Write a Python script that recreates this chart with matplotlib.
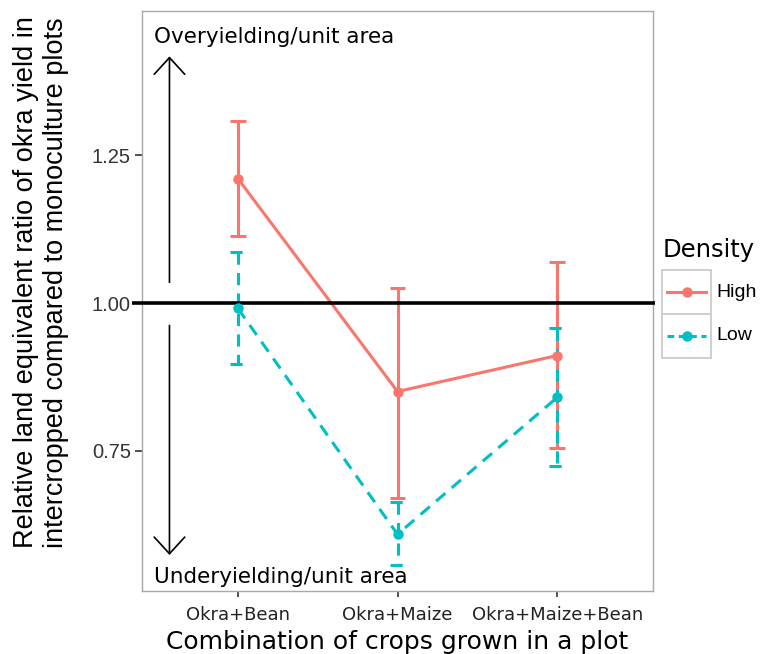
import matplotlib
matplotlib.use('Agg')
import matplotlib.pyplot as plt
from matplotlib.lines import Line2D
from matplotlib.patches import Rectangle

# ---------------- data ----------------
categories = ['Okra+Bean', 'Okra+Maize', 'Okra+Maize+Bean']
high_mean = [1.211, 0.850, 0.911]
high_upper = [1.309, 1.025, 1.069]
high_lower = [1.114, 0.670, 0.754]
low_mean = [0.991, 0.608, 0.840]
low_upper = [1.087, 0.663, 0.957]
low_lower = [0.897, 0.556, 0.723]
series_names = ['High', 'Low']
y_ticks = [0.75, 1.00, 1.25]
y_ticklabels = ['0.75', '1.00', '1.25']
reference_value = 1.0

HIGH_C = '#F8766D'
LOW_C = '#00BFC4'
GREY = '#a8a8a8'

W, H = 761, 654
fig = plt.figure(figsize=(W / 100, H / 100), dpi=100)
fig.patch.set_facecolor('white')


def fx(px):
    return px / W


def fy(py):
    return 1 - py / H


ax = fig.add_axes([fx(142), fy(591), (653 - 142) / W, (591 - 11) / H])
ax.set_xlim(0.4, 3.6)
ax.set_ylim(0.5119, 1.4949)
xs = list(range(1, len(categories) + 1))

lw = 2.2
dash = (4, 2.7)

# High series
for xi, lo, hi in zip(xs, high_lower, high_upper):
    ax.plot([xi, xi], [lo, hi], color=HIGH_C, lw=lw, solid_capstyle='butt', zorder=3)
    ax.plot([xi - 0.05, xi + 0.05], [hi, hi], color=HIGH_C, lw=lw, solid_capstyle='butt', zorder=3)
    ax.plot([xi - 0.05, xi + 0.05], [lo, lo], color=HIGH_C, lw=lw, solid_capstyle='butt', zorder=3)
ax.plot(xs, high_mean, color=HIGH_C, lw=lw, zorder=3)
ax.plot(xs, high_mean, 'o', color=HIGH_C, ms=6.5, zorder=7)

# Low series
for xi, lo, hi in zip(xs, low_lower, low_upper):
    ax.plot([xi, xi], [hi, lo], color=LOW_C, lw=lw, dashes=dash, dash_capstyle='butt', zorder=4)
    ax.plot([xi - 0.05, xi + 0.05], [hi, hi], color=LOW_C, lw=lw, dashes=dash, dash_capstyle='butt', zorder=4)
    ax.plot([xi - 0.05, xi + 0.05], [lo, lo], color=LOW_C, lw=lw, dashes=dash, dash_capstyle='butt', zorder=4)
ax.plot(xs, low_mean, color=LOW_C, lw=lw, dashes=dash, dash_capstyle='butt', zorder=4)
ax.plot(xs, low_mean, 'o', color=LOW_C, ms=6.5, zorder=7)

# reference line
ax.plot([0.34, 3.612], [reference_value, reference_value], color='black', lw=2.6,
        zorder=6, clip_on=False, solid_capstyle='butt')

# arrows
arrow_x = 0.572
ap = dict(arrowstyle='->,head_length=0.6,head_width=0.55', lw=1.2, color='black',
          shrinkA=0, shrinkB=0, mutation_scale=20)
ax.annotate('', xy=(arrow_x, 1.418), xytext=(arrow_x, 1.035), arrowprops=ap, zorder=2)
ax.annotate('', xy=(arrow_x, 0.573), xytext=(arrow_x, 0.962), arrowprops=ap, zorder=2)

ax.text(0.473, 1.4407, 'Overyielding/unit area', fontsize=15.5, ha='left', va='baseline',
        family='DejaVu Sans', color='black')
ax.text(0.478, 0.526, 'Underyielding/unit area', fontsize=15.5, ha='left', va='baseline',
        family='DejaVu Sans', color='black')

# axes styling
for s in ax.spines.values():
    s.set_color(GREY)
    s.set_linewidth(1.0)
ax.set_xticks(xs)
ax.set_xticklabels(categories, fontsize=13, family='DejaVu Sans', color='#222222')
ax.set_yticks(y_ticks)
ax.set_yticklabels(y_ticklabels, fontsize=14.5, family='Liberation Sans', color='#333333')
ax.tick_params(axis='x', length=4, width=1.2, color='#333333', pad=7)
ax.tick_params(axis='y', length=5, width=1.2, color='#333333', pad=3)

# axis titles
fig.text(fx(397.5), fy(649), 'Combination of crops grown in a plot', fontsize=18,
         family='DejaVu Sans', ha='center', va='baseline')
fig.text(fx(13), fy(548), 'Relative land equivalent ratio of okra yield in\n'
         'intercropped compared to monoculture plots',
         fontsize=19.5, family='Liberation Sans', rotation=90, ha='left', va='bottom',
         multialignment='left')

# legend (manual, ggplot style)
fig.text(fx(663), fy(250), 'Density', fontsize=17.5, family='DejaVu Sans', ha='left',
         va='center')
for i, (name, col) in enumerate(zip(series_names, [HIGH_C, LOW_C])):
    top = 270 + i * 44
    fig.add_artist(Rectangle((fx(662), fy(top + 44)), 49 / W, 44 / H, transform=fig.transFigure,
                             facecolor='white', edgecolor='#cccccc', lw=1.3))
    cy = top + 22
    kw = dict(dashes=(2.2, 1.5)) if name == 'Low' else {}
    fig.add_artist(Line2D([fx(667), fx(706)], [fy(cy), fy(cy)], transform=fig.transFigure,
                          color=col, lw=lw, **kw))
    fig.add_artist(Line2D([fx(686.5)], [fy(cy)], transform=fig.transFigure, marker='o',
                          ms=6.5, color=col, lw=0))
    fig.text(fx(716), fy(cy), name, fontsize=14, family='Liberation Sans', ha='left',
             va='center')

fig.savefig('out.png', dpi=100, facecolor='white')
